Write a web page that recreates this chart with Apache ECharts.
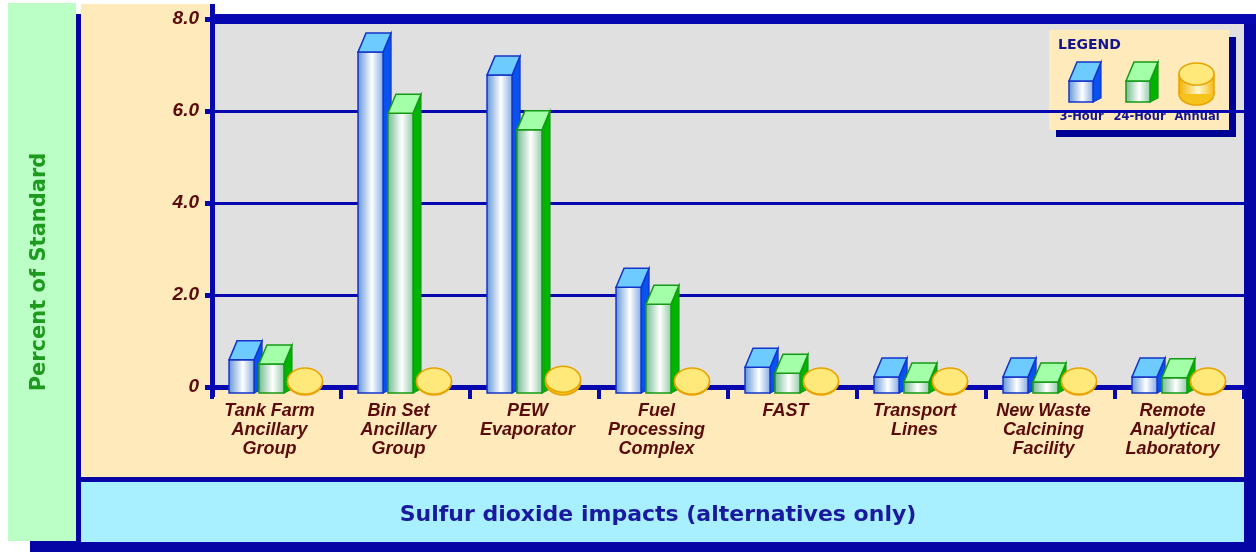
<!DOCTYPE html>
<html>
<head>
<meta charset="utf-8">
<title>Sulfur dioxide impacts</title>
<script src="https://cdn.jsdelivr.net/npm/echarts/dist/echarts.min.js"></script>
<style>
  html, body { margin: 0; padding: 0; background: #ffffff; }
  #chart { width: 1256px; height: 552px; }
</style>
</head>
<body>
<div id="chart"></div>
<script>
// ---- data ----
const categories = [
  'Tank Farm\nAncillary\nGroup',
  'Bin Set\nAncillary\nGroup',
  'PEW\nEvaporator',
  'Fuel\nProcessing\nComplex',
  'FAST',
  'Transport\nLines',
  'New Waste\nCalcining\nFacility',
  'Remote\nAnalytical\nLaboratory'
];
const threeHour      = [0.59, 7.28, 6.78, 2.17, 0.43, 0.22, 0.22, 0.22];
const twentyFourHour = [0.50, 5.95, 5.59, 1.80, 0.30, 0.11, 0.11, 0.20];
const annual         = [0.02, 0.02, 0.06, 0.02, 0.02, 0.02, 0.02, 0.02];
const yTicks = [0, 2, 4, 6, 8];
const seriesNames = ['3-Hour', '24-Hour', 'Annual'];

// ---- styling ----
const AXIS = '#0707B2';
const LABEL = '#5A0B0B';
const GRID = { left: 212, top: 19, width: 1032, height: 368 };
const DX = 8, DY = -19, SINK = 6;

const BLUE = {
  top: '#6DCBFF', side: '#0852F0', edge: '#1434C8',
  front: [
    { offset: 0, color: '#5F92D8' },
    { offset: 0.55, color: '#FFFFFF' },
    { offset: 1, color: '#7FA8E2' }
  ]
};
const GREEN = {
  top: '#A3FFA8', side: '#00B400', edge: '#149A14',
  front: [
    { offset: 0, color: '#6DB88E' },
    { offset: 0.55, color: '#FFFFFF' },
    { offset: 1, color: '#8CCAA4' }
  ]
};

function boxShapes(x0, w, yt, yb, pal) {
  const x1 = x0 + w;
  return [
    { type: 'polygon',
      shape: { points: [[x1, yt], [x1 + DX, yt + DY], [x1 + DX, Math.max(yt + DY, yb - 4)], [x1, yb]] },
      style: { fill: pal.side, stroke: pal.edge, lineWidth: 1.2 } },
    { type: 'rect', shape: { x: x0, y: yt, width: w, height: yb - yt },
      style: { fill: { type: 'linear', x: 0, y: 0, x2: 1, y2: 0, colorStops: pal.front },
               stroke: pal.edge, lineWidth: 1.5 } },
    { type: 'polygon',
      shape: { points: [[x0, yt], [x0 + DX, yt + DY], [x1 + DX, yt + DY], [x1, yt]] },
      style: { fill: pal.top, stroke: pal.edge, lineWidth: 1.5 } }
  ];
}

const CYL_BODY = { type: 'linear', x: 0, y: 0, x2: 1, y2: 0, colorStops: [
  { offset: 0, color: '#F2B200' }, { offset: 0.55, color: '#FFF7CF' }, { offset: 1, color: '#F4BA10' }
] };

function cylinderShapes(cx, rx, ry, yt, yb) {
  return [
    { type: 'ellipse', shape: { cx: cx, cy: yb, rx: rx, ry: ry },
      style: { fill: '#F6C21C', stroke: '#E9A300', lineWidth: 1.5 } },
    { type: 'rect', shape: { x: cx - rx, y: yt, width: 2 * rx, height: Math.max(0, yb - yt) },
      style: { fill: CYL_BODY } },
    { type: 'line', shape: { x1: cx - rx, y1: yt, x2: cx - rx, y2: yb },
      style: { stroke: '#E9A300', lineWidth: 1.5 } },
    { type: 'line', shape: { x1: cx + rx, y1: yt, x2: cx + rx, y2: yb },
      style: { stroke: '#E9A300', lineWidth: 1.5 } },
    { type: 'ellipse', shape: { cx: cx, cy: yt, rx: rx, ry: ry },
      style: { fill: '#FFE97A', stroke: '#E9A300', lineWidth: 1.5 } }
  ];
}

// a 3D box per category, placed at a fixed fraction of the category band
function boxSeries(name, values, pal, from) {
  return {
    name: name, type: 'custom', z: 3,
    data: values.map((v, i) => [i, v]),
    encode: { x: 0, y: 1 },
    renderItem: function (params, api) {
      const i = api.value(0), v = api.value(1);
      const top = api.coord([i, v]);
      const base = api.coord([i, 0]);
      const band = api.size([1, 0])[0];
      const w = 0.194 * band;
      const x0 = top[0] + from * band;
      return { type: 'group', children: boxShapes(x0, w, top[1], base[1] + SINK, pal) };
    }
  };
}

const annualSeries = {
  name: 'Annual', type: 'custom', z: 3,
  data: annual.map((v, i) => [i, v]),
  encode: { x: 0, y: 1 },
  renderItem: function (params, api) {
    const i = api.value(0), v = api.value(1);
    const top = api.coord([i, v]);
    const base = api.coord([i, 0]);
    const band = api.size([1, 0])[0];
    const cx = top[0] + 0.221 * band;
    return { type: 'group', children: cylinderShapes(cx, 17.5, 13, top[1] - 5, base[1] - 5) };
  }
};

const y8 = GRID.top, y0 = GRID.top + GRID.height;

// legend icons
const LG = { x: 1049, y: 30, w: 180, h: 100 };
const LEGEND_TEXT = '#16168C';
const LEGEND_FONT = 'bold 11.5px "DejaVu Sans"';
const legendGroup = {
  type: 'group', z: 20,
  children: [
    { type: 'rect', shape: { x: LG.x + 7, y: LG.y + 7, width: LG.w, height: LG.h }, style: { fill: '#000094' } },
    { type: 'rect', shape: { x: LG.x, y: LG.y, width: LG.w, height: LG.h }, style: { fill: '#FFEABB' } },
    { type: 'text', style: { x: LG.x + 9, y: LG.y + 15, text: 'LEGEND', fill: LEGEND_TEXT,
      font: 'bold 14px "DejaVu Sans"', verticalAlign: 'middle' } },
    { type: 'group', children: boxShapes(1069, 24, 81, 102, BLUE) },
    { type: 'group', children: boxShapes(1126, 24, 81, 102, GREEN) },
    { type: 'group', children: cylinderShapes(1196.5, 17.5, 11, 74, 94) },
    { type: 'text', style: { x: 1081.5, y: 117, text: seriesNames[0], fill: LEGEND_TEXT,
      font: LEGEND_FONT, align: 'center', verticalAlign: 'middle' } },
    { type: 'text', style: { x: 1139.5, y: 117, text: seriesNames[1], fill: LEGEND_TEXT,
      font: LEGEND_FONT, align: 'center', verticalAlign: 'middle' } },
    { type: 'text', style: { x: 1197, y: 117, text: seriesNames[2], fill: LEGEND_TEXT,
      font: LEGEND_FONT, align: 'center', verticalAlign: 'middle' } }
  ]
};

const chart = echarts.init(document.getElementById('chart'), null, { renderer: 'canvas' });

chart.setOption({
  animation: false,
  backgroundColor: '#ffffff',
  grid: {
    left: GRID.left, top: GRID.top, width: GRID.width, height: GRID.height,
    show: true, backgroundColor: '#E0E0E0', borderWidth: 0,
    containLabel: false, outerBoundsMode: 'none'
  },
  xAxis: {
    type: 'category', data: categories, boundaryGap: true,
    axisLine: { show: true, lineStyle: { color: AXIS, width: 5 } },
    axisTick: { show: true, interval: 0, length: 12, lineStyle: { color: AXIS, width: 4 } },
    axisLabel: {
      interval: 0, margin: 15, color: LABEL, fontSize: 18, lineHeight: 19,
      fontStyle: 'italic', fontWeight: 'bold', fontFamily: '"Liberation Sans", Arial, sans-serif',
      padding: [0, 14, 0, 0]
    },
    splitLine: { show: false }
  },
  yAxis: {
    type: 'value', min: yTicks[0], max: yTicks[yTicks.length - 1], interval: 2,
    axisLine: { show: false },
    axisTick: { show: true, length: 7, lineStyle: { color: AXIS, width: 5 } },
    axisLabel: {
      margin: 13, color: LABEL, fontSize: 19,
      fontStyle: 'italic', fontWeight: 'bold', fontFamily: '"Liberation Sans", Arial, sans-serif',
      formatter: v => (v === 0 ? '0' : v.toFixed(1))
    },
    splitLine: { show: true, lineStyle: { color: AXIS, width: 3 } }
  },
  graphic: [
    // panels and frame
    { type: 'rect', z: -10, shape: { x: 30, y: 14, width: 1226, height: 538 }, style: { fill: '#0505A5' } },
    { type: 'rect', z: -9, shape: { x: 8, y: 3, width: 68, height: 538 }, style: { fill: '#BBFFC6' } },
    { type: 'rect', z: -9, shape: { x: 81, y: 4, width: 1163, height: 473 }, style: { fill: '#FFEABB' } },
    { type: 'rect', z: -9, shape: { x: 81, y: 482, width: 1163, height: 60 }, style: { fill: '#A8EFFF' } },
    { type: 'rect', z: -8, shape: { x: GRID.left + 3, y: 0, width: 1256 - GRID.left - 3, height: y8 - 5 }, style: { fill: '#ffffff' } },
    // plot border: thick top rule and left axis
    { type: 'rect', z: 5, shape: { x: GRID.left - 2, y: y8 - 5, width: 1256 - GRID.left + 2, height: 10 }, style: { fill: AXIS } },
    { type: 'rect', z: 5, shape: { x: GRID.left - 2, y: 4, width: 5, height: y0 + 10 - 4 }, style: { fill: AXIS } },
    // titles
    { type: 'text', z: 6, x: 40, y: 272, rotation: Math.PI / 2,
      style: { text: 'Percent of Standard', fill: '#1E9A1E', font: 'bold 21px "DejaVu Sans"',
               align: 'center', verticalAlign: 'middle' } },
    { type: 'text', z: 6,
      style: { x: 658, y: 515, text: 'Sulfur dioxide impacts (alternatives only)', fill: '#1A1A9E',
               font: 'bold 22px "DejaVu Sans"', align: 'center', verticalAlign: 'middle' } },
    legendGroup
  ],
  series: [
    boxSeries(seriesNames[0], threeHour, BLUE, -0.368),
    boxSeries(seriesNames[1], twentyFourHour, GREEN, -0.136),
    annualSeries
  ]
});
</script>
</body>
</html>
